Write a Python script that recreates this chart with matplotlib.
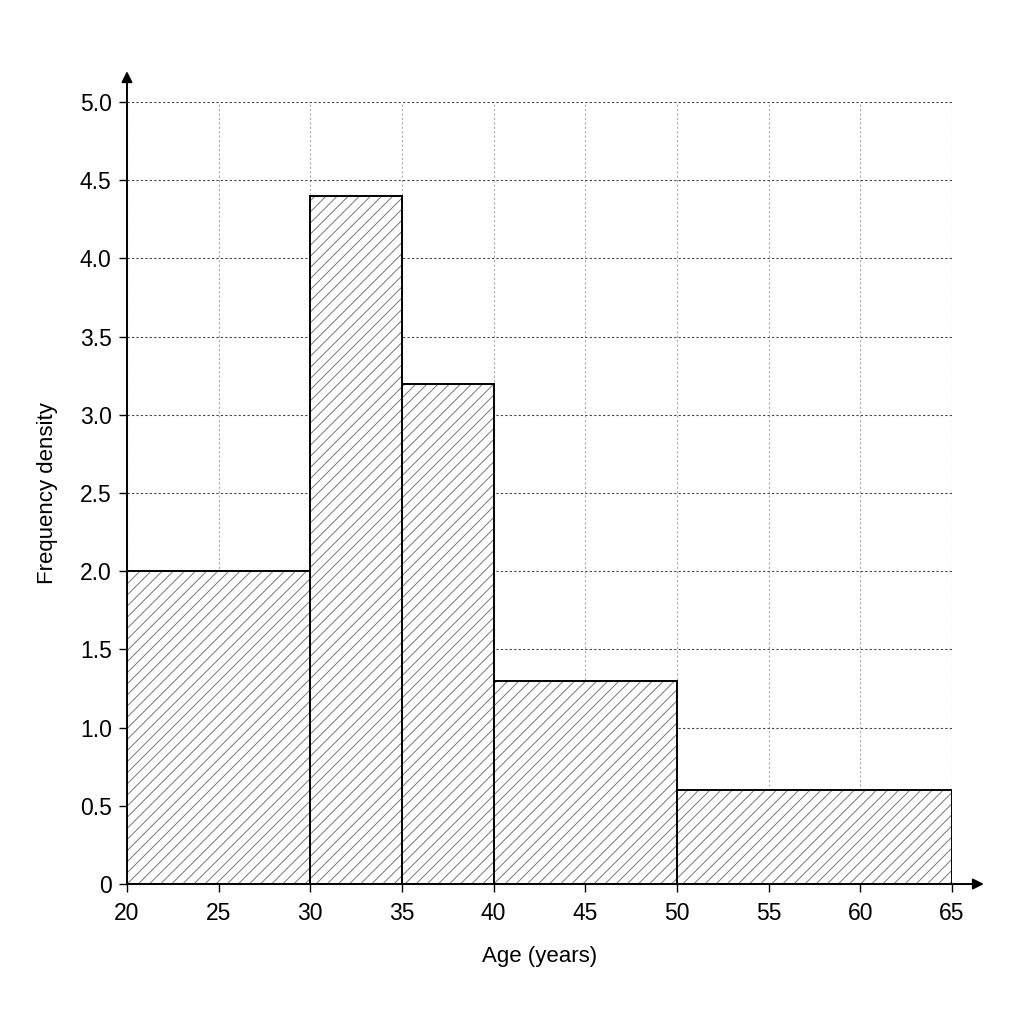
import matplotlib.pyplot as plt

plt.rcParams['font.family'] = ['Liberation Sans', 'DejaVu Sans']
plt.rcParams['hatch.linewidth'] = 0.7

# Histogram data: class boundaries and frequency densities
bin_edges = [20, 30, 35, 40, 50, 65]
densities = [2.0, 4.4, 3.2, 1.3, 0.6]

x_ticks = [20, 25, 30, 35, 40, 45, 50, 55, 60, 65]
y_ticks = [0, 0.5, 1.0, 1.5, 2.0, 2.5, 3.0, 3.5, 4.0, 4.5, 5.0]
y_tick_labels = ['0', '0.5', '1.0', '1.5', '2.0', '2.5', '3.0', '3.5', '4.0', '4.5', '5.0']

lefts = bin_edges[:-1]
widths = [b - a for a, b in zip(bin_edges[:-1], bin_edges[1:])]

fig = plt.figure(figsize=(10.24, 10.24), dpi=100)
ax = fig.add_axes([0.124, 0.1367, 0.8057, 0.7637])

# grid behind the bars
for x in x_ticks:
    ax.axvline(x, color='#aaaaaa', lw=0.8, ls=(0, (2, 2)), zorder=0)
for y in y_ticks:
    ax.axhline(y, color='#444444', lw=0.8, ls=(0, (2, 2)), zorder=0)

# hatched fill, then black outlines on top
ax.bar(lefts, densities, width=widths, align='edge', color='white',
       edgecolor='#777777', hatch='///', linewidth=0, zorder=2)
ax.bar(lefts, densities, width=widths, align='edge', fill=False,
       edgecolor='black', linewidth=1.4, zorder=3)

ax.set_xlim(20, 65)
ax.set_ylim(0, 5)
ax.set_xticks(x_ticks)
ax.set_yticks(y_ticks)
ax.set_yticklabels(y_tick_labels)
ax.tick_params(axis='both', labelsize=16.5, length=6, width=1, direction='out',
               color='black', pad=5)
ax.tick_params(axis='x', pad=7)

for side in ['top', 'right']:
    ax.spines[side].set_visible(False)
for side in ['left', 'bottom']:
    ax.spines[side].set_linewidth(1.4)
    ax.spines[side].set_zorder(4)

# axis arrows
ax.annotate('', xy=(1.042, 0), xytext=(0.99, 0), xycoords='axes fraction',
            arrowprops=dict(arrowstyle='-|>', color='black', lw=1.4, mutation_scale=16))
ax.annotate('', xy=(0, 1.043), xytext=(0, 0.99), xycoords='axes fraction',
            arrowprops=dict(arrowstyle='-|>', color='black', lw=1.4, mutation_scale=16))

ax.set_xlabel('Age (years)', fontsize=16, labelpad=15)
ax.set_ylabel('Frequency density', fontsize=16, labelpad=16)

fig.savefig('out.png', dpi=100)
